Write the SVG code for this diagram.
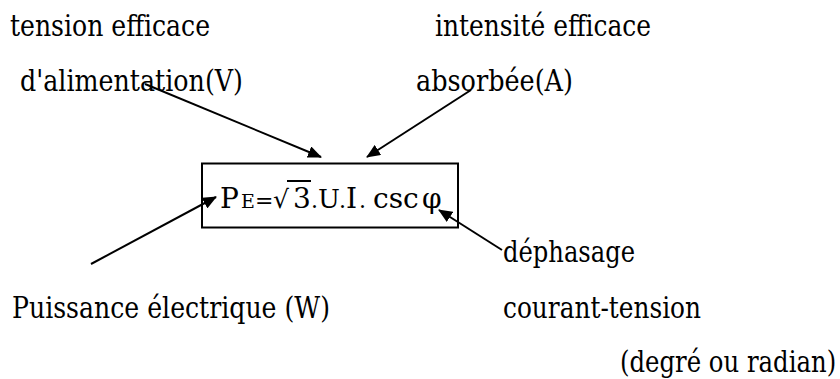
<svg xmlns="http://www.w3.org/2000/svg" width="840" height="379" viewBox="0 0 840 379">
<style>
text{font-family:'DejaVu Serif',serif;fill:#000}
.lbl{font-size:29px}
.f{font-size:28px}
.c{stroke:#000;stroke-width:2;fill:none;marker-end:url(#ah)}
</style>
<defs>
<marker id="ah" markerWidth="14" markerHeight="12" refX="13" refY="6" orient="auto" markerUnits="userSpaceOnUse" viewBox="0 0 14 12">
<path d="M0,0 L14,6 L0,12 Z" fill="#000"/>
</marker>
</defs>
<rect width="840" height="379" fill="#fff"/>
<g id="formula">
<rect x="202" y="163.5" width="256" height="64" fill="none" stroke="#000" stroke-width="2"/>
<text class="f" y="208"><tspan x="220">P</tspan><tspan x="241" font-size="19">E</tspan><tspan x="255" font-size="22">=</tspan><tspan x="273" font-size="25">√</tspan><tspan x="293">3</tspan><tspan x="311" font-size="22">.</tspan><tspan x="318" font-size="26">U</tspan><tspan x="339" font-size="22">.</tspan><tspan x="346">I</tspan><tspan x="359" font-size="22">.</tspan><tspan x="373">csc</tspan><tspan x="422">φ</tspan></text>
<line x1="287" y1="181" x2="311" y2="181" stroke="#000" stroke-width="2"/>
</g>
<g id="tension"><text class="lbl" x="10" y="36" textLength="200" lengthAdjust="spacingAndGlyphs">tension efficace</text><text class="lbl" x="20" y="91" textLength="223" lengthAdjust="spacingAndGlyphs">d'alimentation(V)</text></g>
<g id="intensite"><text class="lbl" x="435" y="36" textLength="216" lengthAdjust="spacingAndGlyphs">intensité efficace</text><text class="lbl" x="416" y="91" textLength="157" lengthAdjust="spacingAndGlyphs">absorbée(A)</text></g>
<g id="puissance"><text class="lbl" x="12" y="318" textLength="318" lengthAdjust="spacingAndGlyphs">Puissance électrique (W)</text></g>
<g id="dephasage"><text class="lbl" x="503" y="262" textLength="132" lengthAdjust="spacingAndGlyphs">déphasage</text><text class="lbl" x="503" y="318" textLength="198" lengthAdjust="spacingAndGlyphs">courant-tension</text><text class="lbl" transform="translate(620,372) scale(0.84,1)">(degré ou radian)</text></g>
<g id="connectors">
<line class="c" x1="145" y1="84" x2="321" y2="157"/>
<line class="c" x1="471" y1="90" x2="367" y2="157"/>
<line class="c" x1="91" y1="264" x2="216" y2="197"/>
<line class="c" x1="502" y1="250" x2="439" y2="210"/>
</g>
</svg>
